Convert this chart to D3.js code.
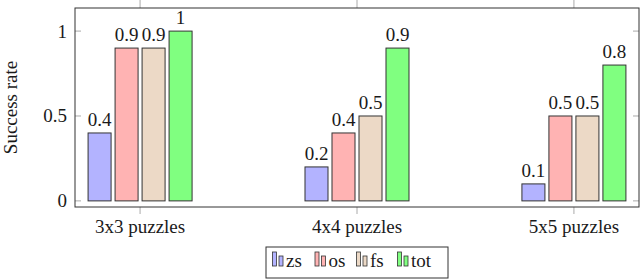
<!DOCTYPE html>
<html>
<head>
<meta charset="utf-8">
<script src="https://cdn.jsdelivr.net/npm/d3@7/dist/d3.min.js"></script>
<style>
  body { margin: 0; background: #fff; }
</style>
</head>
<body>
<div id="chart"></div>
<script>
var categories = ["3x3 puzzles", "4x4 puzzles", "5x5 puzzles"];
var seriesNames = ["zs", "os", "fs", "tot"];
var seriesColors = ["#b3b3ff", "#ffb3b3", "#ecd9c6", "#80ff80"];
var zs = [0.4, 0.2, 0.1];
var os = [0.9, 0.4, 0.5];
var fs = [0.9, 0.5, 0.5];
var tot = [1, 0.9, 0.8];
var yTicks = [0, 0.5, 1];

var values = [zs, os, fs, tot];

var cfg = {
  w: 640,
  h: 280,
  left: 75,
  right: 639,
  top: 8,
  bottom: 207,
  font: "Liberation Serif",
  fontSize: 19,
  textColor: "#1a1a1a",
  frameColor: "#333",
  tickColor: "#aaa",
  // legend entry left edges
  legendX: [272.5, 315, 356.5, 397.5]
};

var svg = d3.select("#chart")
  .append("svg")
  .attr("width", cfg.w)
  .attr("height", cfg.h)
  .attr("font-family", cfg.font)
  .attr("font-size", cfg.fontSize)
  .attr("fill", cfg.textColor);

var x = d3.scalePoint()
  .domain(categories)
  .range([cfg.left, cfg.right])
  .padding(0.3);

// bars inside one group
var xs = d3.scaleBand()
  .domain(seriesNames)
  .range([-54, 54])
  .paddingInner(0.148)
  .paddingOuter(0.074);

var y = d3.scaleLinear()
  .domain([-0.036, 1.136])
  .range([cfg.bottom, cfg.top]);

// ticks
svg.selectAll(".ytick")
  .data(yTicks)
  .enter()
  .append("g")
  .each(function (d) {
    var g = d3.select(this);
    g.append("line")
      .attr("x1", cfg.left).attr("x2", cfg.left + 6)
      .attr("y1", y(d)).attr("y2", y(d))
      .style("stroke", cfg.tickColor);
    g.append("line")
      .attr("x1", cfg.right - 6).attr("x2", cfg.right)
      .attr("y1", y(d)).attr("y2", y(d))
      .style("stroke", cfg.tickColor);
    g.append("text")
      .attr("x", cfg.left - 8)
      .attr("y", y(d))
      .attr("dy", "0.34em")
      .attr("text-anchor", "end")
      .text(d);
  });

svg.selectAll(".xtick")
  .data(categories)
  .enter()
  .append("g")
  .each(function (d) {
    var g = d3.select(this);
    g.append("line")
      .attr("x1", x(d)).attr("x2", x(d))
      .attr("y1", cfg.top - 8).attr("y2", cfg.top)
      .style("stroke", cfg.tickColor);
    g.append("line")
      .attr("x1", x(d)).attr("x2", x(d))
      .attr("y1", cfg.bottom).attr("y2", cfg.bottom + 7)
      .style("stroke", cfg.tickColor);
    g.append("text")
      .attr("x", x(d))
      .attr("y", 233)
      .attr("text-anchor", "middle")
      .text(d);
  });

// bars
seriesNames.forEach(function (s, si) {
  var grp = svg.append("g").attr("class", "serie-" + s);
  grp.selectAll("rect")
    .data(values[si])
    .enter()
    .append("rect")
    .attr("x", function (d, i) { return x(categories[i]) + xs(s); })
    .attr("width", xs.bandwidth())
    .attr("y", function (d) { return y(d); })
    .attr("height", function (d) { return y(0) - y(d); })
    .style("fill", seriesColors[si])
    .style("stroke", "#333")
    .style("stroke-width", "1px");
  grp.selectAll("text")
    .data(values[si])
    .enter()
    .append("text")
    .attr("x", function (d, i) { return x(categories[i]) + xs(s) + xs.bandwidth() / 2; })
    .attr("y", function (d) { return y(d) - 7; })
    .attr("text-anchor", "middle")
    .text(function (d) { return d; });
});

// frame
svg.append("rect")
  .attr("x", cfg.left)
  .attr("y", cfg.top)
  .attr("width", cfg.right - cfg.left)
  .attr("height", cfg.bottom - cfg.top)
  .style("fill", "none")
  .style("stroke", cfg.frameColor)
  .style("stroke-width", "1px");

// y label
svg.append("text")
  .attr("transform", "translate(17," + (cfg.top + cfg.bottom) / 2 + ") rotate(-90)")
  .attr("text-anchor", "middle")
  .text("Success rate");

// legend
var legend = svg.append("g");
legend.append("rect")
  .attr("x", 266)
  .attr("y", 247)
  .attr("width", 182)
  .attr("height", 31)
  .style("fill", "#fff")
  .style("stroke", cfg.frameColor)
  .style("stroke-width", "1px");
seriesNames.forEach(function (s, si) {
  var lx = cfg.legendX[si];
  legend.append("rect")
    .attr("x", lx).attr("y", 252).attr("width", 4).attr("height", 14)
    .style("fill", seriesColors[si]).style("stroke", "#333").style("stroke-width", "0.8px");
  legend.append("rect")
    .attr("x", lx + 6.5).attr("y", 256).attr("width", 4).attr("height", 10)
    .style("fill", seriesColors[si]).style("stroke", "#333").style("stroke-width", "0.8px");
  legend.append("text")
    .attr("x", lx + 13.5)
    .attr("y", 267)
    .text(s);
});
</script>
</body>
</html>
